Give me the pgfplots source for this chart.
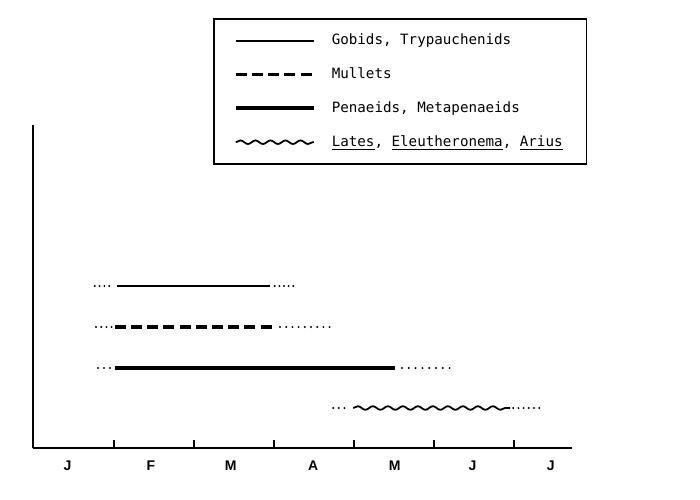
\documentclass[border=0pt]{standalone}
\usepackage{fontspec}
\setmonofont{DejaVu Sans Mono}
\setsansfont{Liberation Sans}
\usepackage{pgfplots}
\pgfplotsset{compat=1.18}
\usetikzlibrary{decorations.pathmorphing}
\begin{document}
\begin{tikzpicture}
\path[use as bounding box] (0,0) rectangle (350pt,249.5pt);
\begin{axis}[
  at={(16.5pt,25.5pt)}, anchor=south west,
  scale only axis, width=269.5pt, height=161.5pt,
  xmin=-0.0125, xmax=6.725, ymin=0, ymax=323,
  axis x line=bottom, axis y line=left,
  axis line style={-, line width=1pt, black},
  ytick=\empty,
  xtick={1,2,3,4,5,6}, xticklabels={},
  tick align=inside, major tick length=4pt,
  tick style={line width=1pt, black},
  extra x ticks={0.42,1.46,2.46,3.49,4.51,5.48,6.46},
  extra x tick labels={J,F,M,A,M,J,J},
  extra x tick style={major tick length=0pt,
     xticklabel style={anchor=center, yshift=-9pt, font=\sffamily\bfseries\fontsize{7}{8}\selectfont}},
  clip=false,
  legend cell align=left,
  legend image code/.code={\draw[#1] (0pt,0pt) -- (39pt,0pt);},
  legend style={at={(0.334,1.331)}, anchor=north west, draw=black, line width=0.75pt,
     font=\ttfamily\fontsize{7.1}{8}\selectfont, inner xsep=10pt, inner ysep=5.5pt,
     row sep=6pt, /tikz/every odd column/.append style={column sep=6pt}},
  dots/.style={black, line width=1.1pt, line cap=round, dash pattern=on 0pt off #1},
]
% Gobids, Trypauchenids
\addplot[dots=2.4pt, forget plot] coordinates {(0.76,162) (0.99,162)};
\addplot[black, line width=0.8pt] coordinates {(1.04,162) (2.95,162)};
\addlegendentry{Gobids, Trypauchenids}
\addplot[dots=2.3pt, forget plot] coordinates {(3.01,162) (3.29,162)};
% Mullets
\addplot[dots=2.6pt, forget plot] coordinates {(0.775,121) (0.975,121)};
\addplot[black, line width=1.8pt, dash pattern=on 5.5pt off 2.6pt] coordinates {(1.01,121) (3.0,121)};
\addlegendentry{Mullets}
\addplot[dots=3.1pt, forget plot] coordinates {(3.075,121) (3.7,121)};
% Penaeids, Metapenaeids
\addplot[dots=3pt, forget plot] coordinates {(0.8,80) (0.96,80)};
\addplot[black, line width=2pt] coordinates {(1.01,80) (4.51,80)};
\addlegendentry{Penaeids, Metapenaeids}
\addplot[dots=3.4pt, forget plot] coordinates {(4.6,80) (5.28,80)};
% Lates, Eleutheronema, Arius
\addplot[dots=2.8pt, forget plot] coordinates {(3.74,40) (3.95,40)};
\addplot[black, line width=0.9pt, decorate, decoration={snake, amplitude=0.9pt, segment length=7.5pt}] coordinates {(3.99,40) (5.95,40)};
\addlegendentry{\underline{Lates}, \underline{Eleutheronema}, \underline{Arius}\hspace{14pt}}
\addplot[dots=2.6pt, forget plot] coordinates {(5.99,40) (6.375,40)};
\end{axis}
\end{tikzpicture}
\end{document}
